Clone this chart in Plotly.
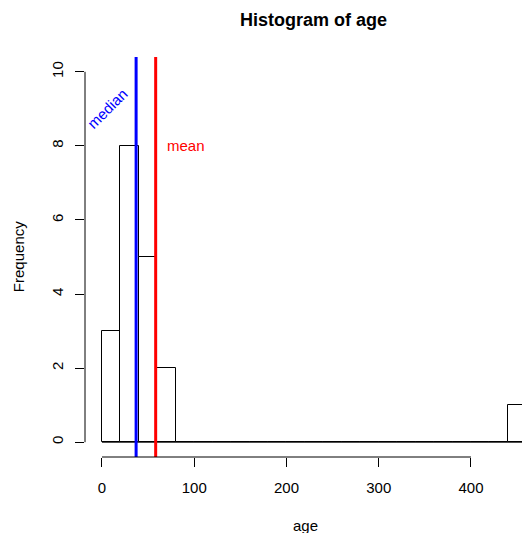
import plotly.graph_objects as go

# Histogram data (bins of width 20)
bin_edges = [0, 20, 40, 60, 80, 100, 120, 140, 160, 180, 200, 220, 240, 260, 280,
             300, 320, 340, 360, 380, 400, 420, 440, 460]
counts = [3, 8, 5, 2, 0, 0, 0, 0, 0, 0, 0, 0, 0, 0, 0, 0, 0, 0, 0, 0, 0, 0, 1]
median_age = 37
mean_age = 58.2
x_ticks = [0, 100, 200, 300, 400]
y_ticks = [0, 2, 4, 6, 8, 10]

centers = [(a + b) / 2 for a, b in zip(bin_edges[:-1], bin_edges[1:])]
widths = [b - a for a, b in zip(bin_edges[:-1], bin_edges[1:])]

FONT = "Liberation Sans, Arial, Helvetica, sans-serif"

fig = go.Figure()
# baseline (zero-height bins drawn by R as flat outline)
fig.add_trace(go.Scatter(x=[bin_edges[0], bin_edges[-1]], y=[0, 0], mode="lines",
                         line=dict(color="black", width=1), hoverinfo="skip",
                         showlegend=False))
fig.add_trace(go.Bar(x=centers, y=counts, width=widths,
                     marker=dict(color="white", line=dict(color="black", width=1)),
                     showlegend=False))

fig.add_vline(x=median_age, line=dict(color="blue", width=3))
fig.add_vline(x=mean_age, line=dict(color="red", width=3))

# axis lines spanning only the tick range (R style)
fig.add_shape(type="line", xref="x", yref="paper", x0=x_ticks[0], x1=x_ticks[-1],
              y0=0, y1=0, line=dict(color="black", width=1))
fig.add_shape(type="line", xref="paper", yref="y", x0=0, x1=0,
              y0=y_ticks[0], y1=y_ticks[-1], line=dict(color="black", width=1))

fig.add_annotation(x=6, y=9, xref="x", yref="y", text="median", showarrow=False,
                   textangle=-45, xanchor="center", yanchor="middle",
                   font=dict(color="blue", size=15, family=FONT))
fig.add_annotation(x=68, y=8, xref="x", yref="y", text="mean", showarrow=False,
                   xanchor="left", yanchor="middle",
                   font=dict(color="red", size=15, family=FONT))

fig.add_annotation(x=0.522, y=1.0925, xref="paper", yref="paper",
                   text="<b>Histogram of age</b>", showarrow=False,
                   xanchor="center", yanchor="middle",
                   font=dict(size=18, family=FONT, color="black"))
fig.add_annotation(x=0.504, y=-0.17, xref="paper", yref="paper", text="age",
                   showarrow=False, xanchor="center", yanchor="middle",
                   font=dict(size=15, family=FONT, color="black"))
fig.add_annotation(x=-0.153, y=0.5, xref="paper", yref="paper", text="Frequency",
                   showarrow=False, textangle=-90, xanchor="center", yanchor="middle",
                   font=dict(size=15, family=FONT, color="black"))

fig.update_layout(
    width=522, height=533,
    margin=dict(l=85, r=0, t=57, b=76),
    paper_bgcolor="white", plot_bgcolor="white",
    bargap=0,
    font=dict(family=FONT, size=15, color="black"),
    xaxis=dict(range=[-18.4, 455.3], tickvals=x_ticks, ticks="outside", ticklen=9,
               tickcolor="black", showline=False, showgrid=False, zeroline=False,
               ticklabelstandoff=8),
    yaxis=dict(range=[-0.4, 10.4], tickvals=y_ticks, ticks="outside", ticklen=9,
               tickcolor="black", showline=False, showgrid=False, zeroline=False,
               tickangle=-90, ticklabelstandoff=6),
)

fig.write_html("out.html", config={"displayModeBar": False},
               post_script="document.body.style.margin='0';document.body.style.overflow='hidden';")
